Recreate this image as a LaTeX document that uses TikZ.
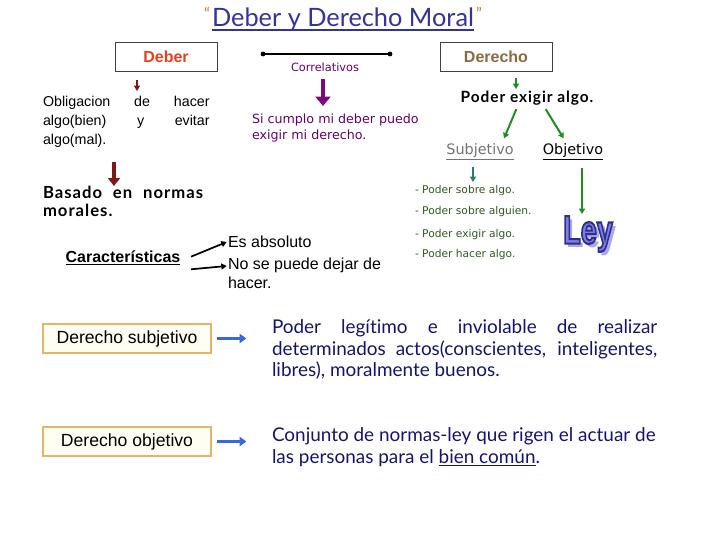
\documentclass[tikz,border=0pt]{standalone}
\usepackage{fontspec}
\usepackage{graphicx}
\setmainfont{Liberation Sans}
\newfontfamily\comic{Lato}[Ligatures=NoCommon]
\newfontfamily\comicsp{Lato}[LetterSpace=6,Ligatures=NoCommon]
\newfontfamily\tahoma{DejaVu Sans}
\usetikzlibrary{arrows.meta}
\definecolor{titleblue}{HTML}{333399}
\definecolor{quoteor}{HTML}{CC7733}
\definecolor{deberred}{HTML}{E0441C}
\definecolor{derbrown}{HTML}{8C6A40}
\definecolor{darkred}{HTML}{7A1A1A}
\definecolor{purp}{HTML}{660066}
\definecolor{arrpurp}{HTML}{7A0A7A}
\definecolor{grn}{HTML}{228B22}
\definecolor{teal2}{HTML}{2E7D6B}
\definecolor{listgreen}{HTML}{2E5A1E}
\definecolor{navy}{HTML}{14146E}
\definecolor{boxor}{HTML}{E3B568}
\definecolor{boxfill}{HTML}{FFFEF2}
\definecolor{arrblue}{HTML}{3A66E0}
\definecolor{leyfill}{HTML}{7E7EE2}
\definecolor{leyshade}{HTML}{A8A8F0}
\newcommand\jl[2]{\makebox[#1][s]{#2}}
\newcommand\leytxt{\scalebox{0.72}[1]{Ley}}
\newcommand\leystroke{\special{pdf:literal direct 0.18 0.18 0.55 RG 1.6 w 2 Tr}}
\newcommand\leyunstroke{\special{pdf:literal direct 0 Tr}}
\begin{document}
\begin{tikzpicture}[x=0.75pt,y=-0.75pt,
  txt/.style={inner sep=0pt,outer sep=0pt},
  topbox/.style={draw=black!75,line width=0.75pt,minimum height=21.75pt,inner sep=0pt,font=\bfseries\fontsize{12}{14}\selectfont},
  defbox/.style={draw=boxor,fill=boxfill,line width=0.9pt,minimum width=126pt,minimum height=21.75pt,inner sep=0pt,font=\fontsize{13.2}{15}\selectfont},
  tipS/.style={-{Triangle[length=4pt,width=4.5pt]}},
  leyst/.style={inner sep=0pt,font=\bfseries\fontsize{30}{32}\selectfont}]
\useasboundingbox (0,0) rectangle (720,540);
% title
\node[txt,text=titleblue,font=\comic\fontsize{19}{22}\selectfont,anchor=base] (title) at (343,26) {Deber y Derecho Moral};
\draw[titleblue,line width=1.2pt] ([yshift=-3pt]title.base west) -- ([yshift=-3pt]title.base east);
\node[txt,text=quoteor,font=\comic\fontsize{12}{12}\selectfont,anchor=east] (q1) at ([xshift=-1.5pt,yshift=4pt]title.west) {“};
\node[txt,text=quoteor,font=\comic\fontsize{12}{12}\selectfont,anchor=west] (q2) at ([xshift=1.5pt,yshift=4pt]title.east) {”};
% Deber / Derecho boxes
\node[topbox,minimum width=76.5pt,text=deberred] (deber) at (166,56.5) {Deber};
\node[topbox,minimum width=84pt,text=derbrown] (derecho) at (496,56.5) {Derecho};
% correlativos
\coordinate (cl) at (263,54);
\coordinate (cr) at (390,54);
\draw[line width=1.5pt] (cl) -- (cr);
\fill (cl) circle (1.8pt);
\fill (cr) circle (1.8pt);
\node[txt,text=purp,font=\tahoma\fontsize{8.5}{10}\selectfont] (corr) at (325,67) {Correlativos};
\coordinate (pa) at (323,79);
\node[txt,text=purp,font=\tahoma\fontsize{9.5}{12}\selectfont,align=left,anchor=north west] (cumplo) at (252,114) {Si cumplo mi deber puedo\\exigir mi derecho.};
\draw[arrpurp,line width=3.2pt,-{Triangle[length=7pt,width=11pt]}] (pa) -- (323,106) coordinate (pb);
% Deber column
\node[txt,font=\fontsize{10.7}{14.25}\selectfont,align=left,anchor=north west] (oblig) at (43,96)
  {\jl{125pt}{Obligacion de hacer}\\\jl{125pt}{algo(bien) y evitar}\\algo(mal).};
\coordinate (da) at (137,80);
\draw[darkred,line width=1.3pt,tipS] (da) -- (137,91) coordinate (db0);
\node[txt,font=\comicsp\bfseries\fontsize{12.5}{13.5}\selectfont,align=left,anchor=north west] (basado) at (43,186)
  {\jl{120pt}{Basado en normas}\\morales.};
\coordinate (db) at (114,162);
\draw[darkred,line width=2.6pt,-{Triangle[length=6pt,width=9pt]}] (db) -- (db |- basado.north);
% Caracteristicas
\node[txt,font=\bfseries\fontsize{12}{14}\selectfont] (carac) at (123,258) {\underline{Características}};
\node[txt,font=\fontsize{12}{14}\selectfont,anchor=west] (abs) at (228,242) {Es absoluto};
\node[txt,font=\fontsize{12}{14.5}\selectfont,align=left,anchor=north west] (nose) at (228,258) {No se puede dejar de\\hacer.};
\draw[line width=1.3pt,tipS] ([shift={(8pt,1pt)}]carac.east) -- ([xshift=-1pt]abs.west);
\draw[line width=1.3pt,tipS] ([shift={(8pt,-3pt)}]carac.south east) -- ([shift={(-1pt,-6pt)}]nose.north west);
% Derecho column
\node[txt,font=\comicsp\bfseries\fontsize{11.6}{13}\selectfont] (poder) at (527,98) {Poder exigir algo.};
\coordinate (ga) at (516,78);
\draw[grn,line width=1.3pt,tipS] (ga) -- (516,89) coordinate (gb);
\node[txt,text=black!55,font=\tahoma\fontsize{10.8}{12}\selectfont] (subj) at (480,152) {\underline{Subjetivo}};
\node[txt,font=\tahoma\fontsize{10.8}{12}\selectfont] (obj) at (573,152) {\underline{Objetivo}};
\draw[grn,line width=1.5pt,tipS] ([shift={(-8pt,-3pt)}]poder.south) -- ([shift={(18pt,4pt)}]subj.north);
\draw[grn,line width=1.5pt,tipS] ([shift={(14pt,-3pt)}]poder.south) -- ([shift={(-7pt,4pt)}]obj.north);
\foreach \t/\yy [count=\i] in {{- Poder sobre algo.}/191,{- Poder sobre alguien.}/212,{- Poder exigir algo.}/235,{- Poder hacer algo.}/255}
  \node[txt,text=listgreen,font=\tahoma\fontsize{8}{9}\selectfont,anchor=west] (li\i) at (415,\yy) {\t};
\coordinate (ta) at (473,167);
\draw[teal2,line width=1.3pt,tipS] (ta) -- (473,182) coordinate (tb);
% Ley
\node[leyst,text=leyshade] (leysh) at (591.5,237.5) {\leytxt};
\node[leyst,text=leyfill] (ley) at (588,234) {\leystroke\leytxt\leyunstroke};
\coordinate (ob) at (582,168);
\draw[grn,line width=1.3pt,tipS] (ob) -- (582,214) coordinate (oe);
% definitions
\node[defbox] (dsub) at (127,338.5) {Derecho subjetivo};
\node[defbox] (dobj) at (127,441.5) {Derecho objetivo};
\node[txt,text=navy,font=\comic\fontsize{14.2}{16.3}\selectfont,align=left,anchor=north west] (tsub) at (272,319.5)
  {\jl{289pt}{Poder legítimo e inviolable de realizar}\\\jl{289pt}{determinados actos(conscientes, inteligentes,}\\libres), moralmente buenos.};
\node[txt,text=navy,font=\comic\fontsize{14.2}{16.3}\selectfont,align=left,anchor=north west] (tobj) at (272,428)
  {Conjunto de normas-ley que rigen el actuar de\\las personas para el \underline{bien común}.};
\draw[arrblue,line width=2.6pt,-{Triangle[length=5pt,width=7pt]}] ([xshift=4pt]dsub.east) -- ([xshift=26pt]dsub.east);
\draw[arrblue,line width=2.6pt,-{Triangle[length=5pt,width=7pt]}] ([xshift=4pt]dobj.east) -- ([xshift=26pt]dobj.east);
\end{tikzpicture}
\end{document}
